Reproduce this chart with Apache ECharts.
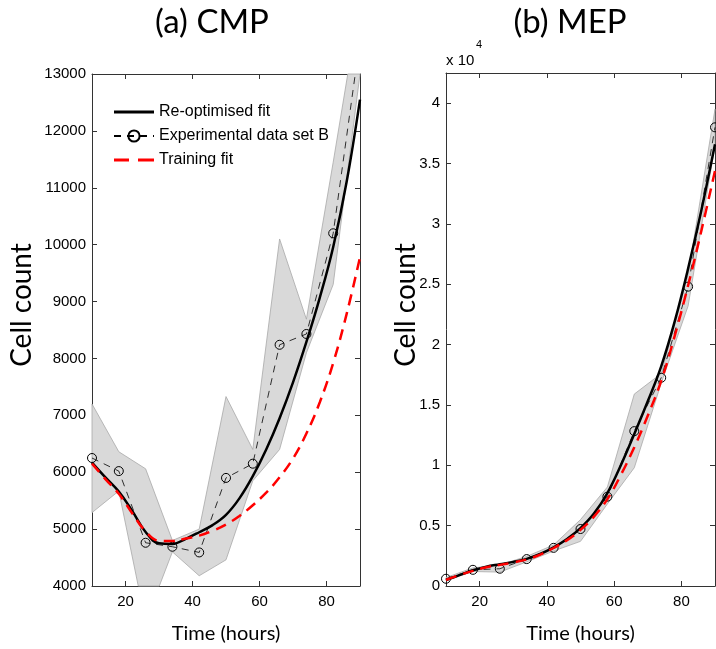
<!DOCTYPE html>
<html>
<head>
<meta charset="utf-8">
<script src="https://cdn.jsdelivr.net/npm/echarts@6/dist/echarts.min.js"></script>
<style>html,body{margin:0;padding:0;background:#fff}#c{width:716px;height:649px}</style>
</head>
<body>
<div id="c"></div>
<script>
// ---------------- data ----------------
const timeExp = [10, 18, 26, 34, 42, 50, 58, 66, 74, 82, 90];
const fitTime = [10, 14, 18, 22, 26, 30, 34, 38, 42, 46, 50, 54, 58, 62, 66, 70, 74, 78, 82, 86, 90];

// (a) CMP
const cmpExp   = [6250, 6020, 4760, 4690, 4590, 5900, 6150, 8240, 8430, 10200, 13600];
const cmpUpper = [7200, 6360, 6060, 4800, 5000, 7330, 6400, 10100, 8690, 11450, 14300];
const cmpLower = [5290, 5670, 3370, 4600, 4180, 4460, 5850, 6400, 8100, 9300, 13000];
const cmpReopt = [6170, 5910, 5660, 5320, 4950, 4750, 4740, 4830, 4945, 5070, 5250, 5540, 5930, 6400, 6950, 7580, 8290, 9070, 9960, 11100, 12550];
const cmpTrain = [6150, 5880, 5620, 5280, 4960, 4795, 4790, 4835, 4885, 4970, 5080, 5230, 5420, 5640, 5910, 6240, 6680, 7230, 7920, 8780, 9780];

// (b) MEP
const mepExp   = [600, 1340, 1430, 2230, 3160, 4720, 7400, 12830, 17250, 24800, 38000];
const mepUpper = [700, 1500, 1750, 2450, 3400, 5500, 8200, 15900, 17600, 25800, 39500];
const mepLower = [450, 1200, 1150, 2000, 2900, 3700, 6800, 9800, 16800, 23200, 36500];
const mepReopt = [500, 900, 1300, 1600, 1800, 2000, 2250, 2650, 3200, 3900, 4800, 6000, 7700, 10000, 12600, 15300, 18200, 21900, 26300, 31200, 36600];
const mepTrain = [500, 900, 1250, 1550, 1750, 1950, 2200, 2600, 3150, 3800, 4650, 5750, 7200, 9200, 11500, 14100, 17000, 20700, 24900, 29500, 34400];

const xTicks = [20, 40, 60, 80];
const cmpYTicks = {min: 4000, max: 13000, step: 1000};
const mepYTicks = {min: 0, max: 42500, step: 5000, scale: 10000};

// ---------------- helpers ----------------
const zip = (xs, ys) => xs.map((x, i) => [x, ys[i]]);
const AX = '#333';
const tickFont = {fontFamily: 'Liberation Sans, Arial, sans-serif', fontSize: 15, color: '#000'};
const bigFont = 'Lato, "Open Sans", sans-serif';

function xAxes(gi) {
  return [
    {type: 'value', gridIndex: gi, position: 'bottom', min: 10, max: 90,
     axisLine: {show: true, onZero: false, lineStyle: {color: AX, width: 1}},
     axisTick: {show: true, inside: true, length: 5, customValues: xTicks, lineStyle: {color: AX}},
     axisLabel: {show: true, customValues: xTicks, margin: 8, ...tickFont},
     splitLine: {show: false},
     name: 'Time (hours)', nameLocation: 'middle', nameGap: 38,
     nameTextStyle: {fontFamily: bigFont, fontSize: 20, color: '#000'}},
    {type: 'value', gridIndex: gi, position: 'top', min: 10, max: 90,
     axisLine: {show: true, onZero: false, lineStyle: {color: AX, width: 1}},
     axisTick: {show: true, inside: true, length: 5, customValues: xTicks, lineStyle: {color: AX}},
     axisLabel: {show: false}, splitLine: {show: false}}
  ];
}
function yAxes(gi, t, fmt) {
  return [
    {type: 'value', gridIndex: gi, position: 'left', min: t.min, max: t.max, interval: t.step,
     axisLine: {show: true, onZero: false, lineStyle: {color: AX, width: 1}},
     axisTick: {show: true, inside: true, length: 5, lineStyle: {color: AX}},
     axisLabel: {show: true, margin: 6, formatter: fmt, ...tickFont},
     splitLine: {show: false}},
    {type: 'value', gridIndex: gi, position: 'right', min: t.min, max: t.max, interval: t.step,
     axisLine: {show: true, onZero: false, lineStyle: {color: AX, width: 1}},
     axisTick: {show: true, inside: true, length: 5, lineStyle: {color: AX}},
     axisLabel: {show: false}, splitLine: {show: false}}
  ];
}

// Sutherland-Hodgman clip of a polygon to a rect (pixel space)
function clipPoly(pts, r) {
  const edges = [
    [p => p[0] >= r.x, (a, b) => { const t = (r.x - a[0]) / (b[0] - a[0]); return [r.x, a[1] + t * (b[1] - a[1])]; }],
    [p => p[0] <= r.x + r.width, (a, b) => { const X = r.x + r.width; const t = (X - a[0]) / (b[0] - a[0]); return [X, a[1] + t * (b[1] - a[1])]; }],
    [p => p[1] >= r.y, (a, b) => { const t = (r.y - a[1]) / (b[1] - a[1]); return [a[0] + t * (b[0] - a[0]), r.y]; }],
    [p => p[1] <= r.y + r.height, (a, b) => { const Y = r.y + r.height; const t = (Y - a[1]) / (b[1] - a[1]); return [a[0] + t * (b[0] - a[0]), Y]; }]
  ];
  let out = pts;
  edges.forEach(([inside, inter]) => {
    const src = out; out = [];
    for (let i = 0; i < src.length; i++) {
      const cur = src[i], prev = src[(i + src.length - 1) % src.length];
      if (inside(cur)) { if (!inside(prev)) out.push(inter(prev, cur)); out.push(cur); }
      else if (inside(prev)) out.push(inter(prev, cur));
    }
  });
  return out;
}

function bandSeries(xi, yi, up, lo) {
  return {
    type: 'custom', xAxisIndex: xi, yAxisIndex: yi, silent: true, z: 1,
    data: [[timeExp[0], lo[0]]],
    renderItem: (params, api) => {
      const pts = [];
      timeExp.forEach((t, i) => pts.push(api.coord([t, up[i]])));
      for (let i = timeExp.length - 1; i >= 0; i--) pts.push(api.coord([timeExp[i], lo[i]]));
      const cs = params.coordSys;
      const clipped = clipPoly(pts, {x: cs.x, y: cs.y, width: cs.width, height: cs.height});
      return {type: 'polygon', shape: {points: clipped},
              style: {fill: '#d9d9d9', stroke: '#a8a8a8', lineWidth: 0.8}};
    }
  };
}

function panelSeries(xi, yi, exp, up, lo, reopt, train) {
  return [
    bandSeries(xi, yi, up, lo),
    {name: 'Experimental data set B', type: 'line', xAxisIndex: xi, yAxisIndex: yi,
     data: zip(timeExp, exp), symbol: 'circle', symbolSize: 9, clip: true,
     itemStyle: {color: 'rgba(0,0,0,0)', borderColor: '#000', borderWidth: 1},
     lineStyle: {color: '#000', width: 0.8, type: [7, 6]}, z: 3},
    {name: 'Re-optimised fit', type: 'line', xAxisIndex: xi, yAxisIndex: yi,
     data: zip(fitTime, reopt), symbol: 'none', smooth: 0.4, clip: true,
     lineStyle: {color: '#000', width: 2.5}, itemStyle: {color: '#000'}, z: 4},
    {name: 'Training fit', type: 'line', xAxisIndex: xi, yAxisIndex: yi,
     data: zip(fitTime, train), symbol: 'none', smooth: 0.4, clip: true,
     lineStyle: {color: '#ff0000', width: 2.5, type: [11, 7]}, itemStyle: {color: '#ff0000'}, z: 5}
  ];
}

const chart = echarts.init(document.getElementById('c'), null, {renderer: 'canvas'});
chart.setOption({
  animation: false,
  backgroundColor: '#fff',
  grid: [
    {left: 92, top: 74, width: 268, height: 515},
    {left: 446, top: 73, width: 269, height: 516}
  ],
  xAxis: [...xAxes(0), ...xAxes(1)],
  yAxis: [
    ...yAxes(0, cmpYTicks, v => String(v)),
    ...yAxes(1, mepYTicks, v => (v % mepYTicks.step === 0 ? String(v / mepYTicks.scale) : ''))
  ],
  legend: {
    show: true, orient: 'vertical', left: 113, top: 104, padding: 0,
    itemWidth: 40, itemHeight: 14, itemGap: 8,
    data: [
      {name: 'Re-optimised fit', icon: 'path://M0,0L40,0L40,3L0,3Z'},
      {name: 'Experimental data set B'},
      {name: 'Training fit', icon: 'path://M0,0h15v3h-15z M24,0h16v3h-16z'}
    ],
    textStyle: {fontFamily: 'Liberation Sans, Arial, sans-serif', fontSize: 16, color: '#000'},
    selectedMode: false
  },
  series: [
    ...panelSeries(0, 0, cmpExp, cmpUpper, cmpLower, cmpReopt, cmpTrain),
    ...panelSeries(2, 2, mepExp, mepUpper, mepLower, mepReopt, mepTrain)
  ],
  graphic: [
    {type: 'text', x: 212, y: 22, style: {text: '(a) CMP', font: '33px ' + bigFont, fill: '#000', textAlign: 'center', textVerticalAlign: 'middle'}},
    {type: 'text', x: 570, y: 22, style: {text: '(b) MEP', font: '33px ' + bigFont, fill: '#000', textAlign: 'center', textVerticalAlign: 'middle'}},
    {type: 'text', x: 22, y: 305, rotation: Math.PI / 2, style: {text: 'Cell count', font: '28px ' + bigFont, fill: '#000', textAlign: 'center', textVerticalAlign: 'middle'}},
    {type: 'text', x: 406, y: 305, rotation: Math.PI / 2, style: {text: 'Cell count', font: '28px ' + bigFont, fill: '#000', textAlign: 'center', textVerticalAlign: 'middle'}},
    {type: 'text', x: 446, y: 61, style: {text: 'x 10', font: '15px Liberation Sans, Arial, sans-serif', fill: '#000', textVerticalAlign: 'middle'}},
    {type: 'text', x: 476, y: 45, style: {text: '4', font: '11px Liberation Sans, Arial, sans-serif', fill: '#000', textVerticalAlign: 'middle'}}
  ]
});
</script>
</body>
</html>
